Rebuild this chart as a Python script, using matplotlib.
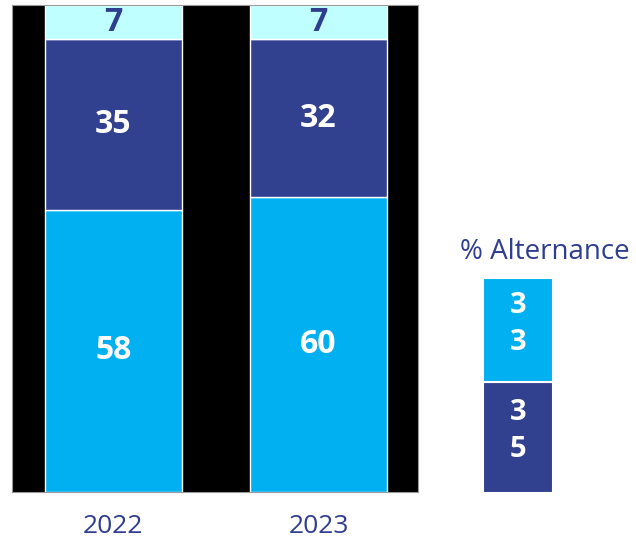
#%% Packages
import numpy as np
import matplotlib.pyplot as plt

plt.rcParams['font.family'] = ['Open Sans', 'DejaVu Sans']

#%% Data
years      = ['2022', '2023']
part_low   = [58, 60]                                                          # light blue segment
part_mid   = [35, 32]                                                          # dark blue segment
part_top   = [7, 7]                                                            # pale segment

alt_labels = ['35', '33']                                                      # % Alternance, bottom -> top
alt_values = [35, 33]

c_light = '#00B0F0'
c_dark  = '#32418F'
c_pale  = '#C0FFFF'
c_text  = '#2F3E8E'

#%% 100% stacked shares
low = np.array(part_low, dtype=float)
mid = np.array(part_mid, dtype=float)
top = np.array(part_top, dtype=float)
tot = low + mid + top
low_s, mid_s, top_s = 100 * low / tot, 100 * mid / tot, 100 * top / tot

#%% Figure
fig = plt.figure(figsize=(6.36, 5.4), dpi=100)
ax  = fig.add_axes([12/636, 48/540, 406/636, 487/540])
ax.set_facecolor('black')

x = np.arange(len(years))
w = 0.668

ax.bar(x, low_s, w, color=c_light, edgecolor='white', linewidth=1)
ax.bar(x, mid_s, w, bottom=low_s, color=c_dark, edgecolor='white', linewidth=1)
ax.bar(x, top_s, w, bottom=low_s + mid_s, color=c_pale, edgecolor='white', linewidth=1)

for i in range(len(years)):
    ax.text(x[i], low_s[i] / 2, str(part_low[i]), ha='center', va='center',
            color='white', fontsize=23, fontweight='bold')
    ax.text(x[i], low_s[i] + mid_s[i] / 2, str(part_mid[i]), ha='center', va='center',
            color='white', fontsize=23, fontweight='bold')
    ax.text(x[i], low_s[i] + mid_s[i] + top_s[i] / 2, str(part_top[i]), ha='center', va='center',
            color=c_text, fontsize=23, fontweight='bold')

ax.set_xlim(-0.495, 1.485)
ax.set_ylim(0, 100)
ax.set_yticks([])
ax.set_xticks(x)
ax.set_xticklabels(years, fontsize=19, color=c_text)
ax.tick_params(axis='x', length=0, pad=16)
for s in ax.spines.values():
    s.set_color('#9a9a9a')
    s.set_linewidth(0.8)

#%% Side box: % Alternance
ax2 = fig.add_axes([483/636, 47/540, 70/636, 215/540])
ax2.axis('off')
bottom = 0
alt_colors = [c_dark, c_light]
for v, lab, c in zip(alt_values, alt_labels, alt_colors):
    ax2.bar(0, v, 1, bottom=bottom, color=c, edgecolor='white', linewidth=1.5)
    ax2.text(0, bottom + v * 0.56, '\n'.join(lab), ha='center', va='center',
             color='white', fontsize=21, fontweight='bold', linespacing=1.4)
    bottom += v
ax2.set_xlim(-0.5, 0.5)
ax2.set_ylim(0, bottom)

fig.text(545/636, 1 - 252/540, '% Alternance', ha='center', va='center',
         color=c_text, fontsize=20)

fig.savefig('out.png', dpi=100)
